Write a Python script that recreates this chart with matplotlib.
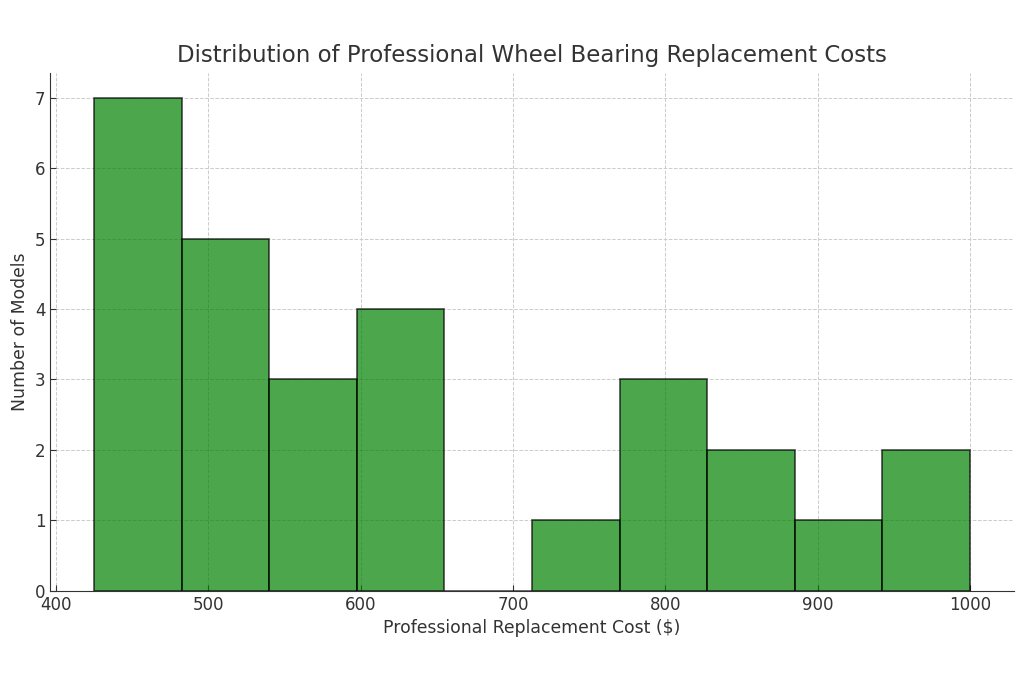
import numpy as np
import matplotlib
matplotlib.use("Agg")
import matplotlib.pyplot as plt

# bin edges and counts
bin_edges = [425, 482.5, 540, 597.5, 655, 712.5, 770, 827.5, 885, 942.5, 1000]
counts = [7, 5, 3, 4, 0, 1, 3, 2, 1, 2]

plt.rcParams['font.family'] = ['DejaVu Sans']
text_col = '#333333'

fig, ax = plt.subplots(figsize=(10.24, 6.83), dpi=100)

edges = np.array(bin_edges)
centers = (edges[:-1] + edges[1:]) / 2
ax.hist(centers, bins=edges, weights=counts, color='green', alpha=0.7,
        edgecolor='black', linewidth=1.2)

ax.set_title('Distribution of Professional Wheel Bearing Replacement Costs',
             fontsize=16.5, color=text_col, pad=8)
ax.set_xlabel('Professional Replacement Cost ($)', fontsize=12.4, color=text_col)
ax.set_ylabel('Number of Models', fontsize=12.4, color=text_col)

ax.grid(True, linestyle='--', color='#cccccc', linewidth=0.7)
ax.set_axisbelow(True)
for s in ['top', 'right']:
    ax.spines[s].set_visible(False)
for s in ['left', 'bottom']:
    ax.spines[s].set_color('#333333')
ax.tick_params(direction='in', labelsize=12, colors=text_col, length=4)

fig.subplots_adjust(left=0.049, right=0.99, top=0.893, bottom=0.135)
fig.savefig('out.png', dpi=100)
